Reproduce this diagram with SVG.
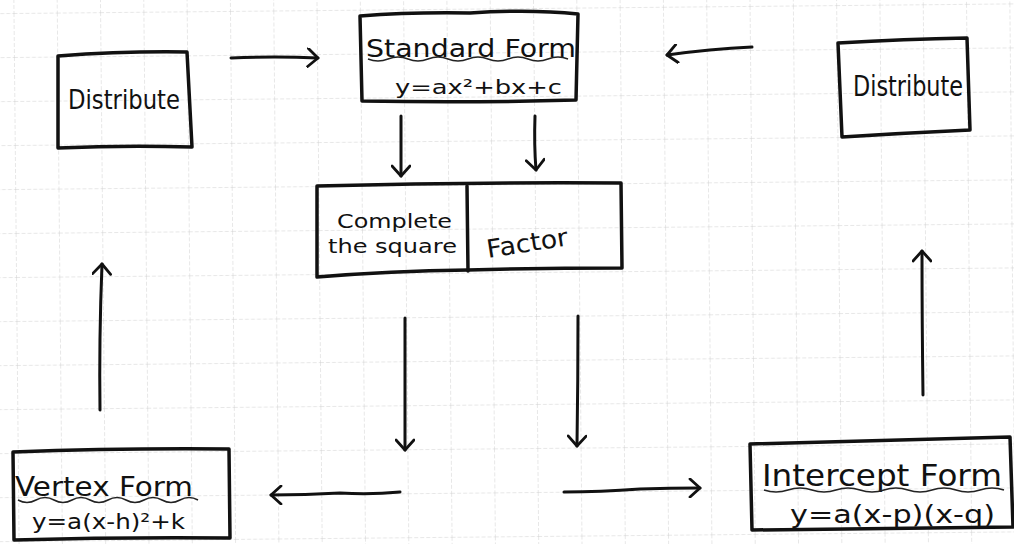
<svg xmlns="http://www.w3.org/2000/svg" width="1014" height="544" viewBox="0 0 1014 544">
<defs>
<pattern id="grid" width="43.3" height="44" patternUnits="userSpaceOnUse" patternTransform="translate(13.5,13) rotate(-0.55)">
<path d="M0,0 V44 M0,0 H43.3" fill="none" stroke="#d0d0d0" stroke-width="1" stroke-dasharray="4 2"/>
</pattern>
<marker id="arr" viewBox="0 0 20 20" refX="17" refY="10" markerWidth="20" markerHeight="20" markerUnits="userSpaceOnUse" orient="auto">
<path d="M7,1 L17,10 L7,19" fill="none" stroke="#111" stroke-width="2.8" stroke-linecap="round" stroke-linejoin="round"/>
</marker>
<style>
.box{fill:none;stroke:#111;stroke-width:3.5;stroke-linejoin:round;stroke-linecap:round}
.t{font-family:"DejaVu Sans","Liberation Sans",sans-serif;fill:#111}
.w{fill:none;stroke:#222;stroke-width:1.5}
.c{fill:none;stroke:#111;stroke-width:3;stroke-linecap:round}
</style>
</defs>
<rect width="1014" height="544" fill="#ffffff"/>
<rect width="1014" height="544" fill="url(#grid)"/>

<g id="standard-form">
<path class="box" d="M360,16 Q410,12 470,13 Q530,9 578,14 L576,100 Q470,103 362,101 Z"/>
<text class="t" x="366" y="57" font-size="25" textLength="210" lengthAdjust="spacingAndGlyphs">Standard Form</text>
<path class="w" d="M368,59 q10,4 20,0 t20,0 t20,0 t20,0 t20,0 t20,0 t20,0 t20,0 t20,0 t20,0"/>
<text class="t" x="395" y="94" font-size="20" textLength="167" lengthAdjust="spacingAndGlyphs">y=ax²+bx+c</text>
</g>

<g id="distribute-left">
<path class="box" d="M58,56 Q125,51 187,52 L192,147 Q125,145 58,148 Z"/>
<text class="t" x="68" y="109" font-size="27" textLength="112" lengthAdjust="spacingAndGlyphs">Distribute</text>
</g>

<g id="distribute-right">
<path class="box" d="M838,43 Q905,39 967,38 L970,130 Q905,133 842,137 Z"/>
<text class="t" x="853" y="96" font-size="28" textLength="110" lengthAdjust="spacingAndGlyphs">Distribute</text>
</g>

<g id="complete-factor">
<path class="box" d="M317,186 Q470,182 621,183 L622,268 Q545,268 468,270 Q390,271 317,277 Z"/>
<path class="box" d="M467,186 L468,271"/>
<text class="t" x="337" y="228" font-size="20" textLength="115" lengthAdjust="spacingAndGlyphs">Complete</text>
<text class="t" x="328" y="253" font-size="20" textLength="129" lengthAdjust="spacingAndGlyphs">the square</text>
<text class="t" x="488" y="258" font-size="25" textLength="82" lengthAdjust="spacingAndGlyphs" transform="rotate(-9 488 258)">Factor</text>
</g>

<g id="vertex-form">
<path class="box" d="M13,452 Q120,448 229,449 L230,538 Q120,537 14,540 Z"/>
<text class="t" x="15" y="496" font-size="26" textLength="178" lengthAdjust="spacingAndGlyphs">Vertex Form</text>
<path class="w" d="M18,500 q9,5 18,0 t18,0 t18,0 t18,0 t18,0 t18,0 t18,0 t18,0 t18,0 t18,0"/>
<text class="t" x="32" y="529" font-size="21" textLength="153" lengthAdjust="spacingAndGlyphs">y=a(x-h)²+k</text>
</g>

<g id="intercept-form">
<path class="box" d="M750,444 Q880,440 1010,437 L1013,527 Q880,528 752,530 Z"/>
<text class="t" x="762" y="486" font-size="31" textLength="240" lengthAdjust="spacingAndGlyphs">Intercept Form</text>
<path class="w" d="M764,490 q12,4 24,0 t24,0 t24,0 t24,0 t24,0 t24,0 t24,0 t24,0 t24,0 t24,0" stroke="#777"/>
<text class="t" x="790" y="523" font-size="24" textLength="205" lengthAdjust="spacingAndGlyphs">y=a(x-p)(x-q)</text>
</g>

<g id="connectors">
<path class="c" d="M231,58 Q275,56 318,58" marker-end="url(#arr)"/>
<path class="c" d="M752,47 Q710,49 667,55" marker-end="url(#arr)"/>
<path class="c" d="M401,116 L401,176" marker-end="url(#arr)"/>
<path class="c" d="M535,116 Q534,145 536,170" marker-end="url(#arr)"/>
<path class="c" d="M405,318 Q405,385 405,450" marker-end="url(#arr)"/>
<path class="c" d="M578,316 Q578,380 577,446" marker-end="url(#arr)"/>
<path class="c" d="M100,410 Q99,340 102,264" marker-end="url(#arr)"/>
<path class="c" d="M923,395 Q922,320 922,251" marker-end="url(#arr)"/>
<path class="c" d="M400,492 Q370,495 340,493 Q305,495 271,495" marker-end="url(#arr)"/>
<path class="c" d="M564,492 Q600,492 640,489 Q670,488 700,488" marker-end="url(#arr)"/>
</g>
</svg>
